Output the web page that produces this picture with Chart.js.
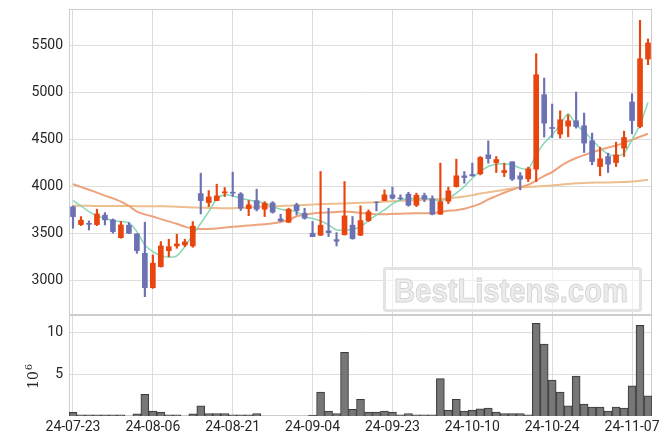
<!DOCTYPE html>
<html>
<head>
<meta charset="utf-8">
<script src="https://cdn.jsdelivr.net/npm/chart.js@4.4.1/dist/chart.umd.min.js"></script>
<style>
  html, body { margin: 0; padding: 0; background: #fff; }
  #wrap { position: relative; width: 670px; height: 444px; overflow: hidden; }
  #priceCanvas { position: absolute; left: 0; top: 0; }
  #volCanvas { position: absolute; left: 0; top: 315px; }
  .mark { position: absolute; left: 383px; top: 267px; width: 253px; height: 39px;
          border: 3px solid #e3e3e3; border-radius: 3px; background: rgba(255,255,255,0.55); }
  .mark span { position: absolute; left: 8px; top: 1px; font: bold 34px "Liberation Sans", sans-serif;
               color: #ececec; -webkit-text-stroke: 1px #d4d4d4; transform: scaleX(0.86);
               transform-origin: 0 0; white-space: nowrap; }
</style>
</head>
<body>
<div id="wrap">
  <canvas id="priceCanvas" width="670" height="316"></canvas>
  <canvas id="volCanvas" width="670" height="129"></canvas>
  <div class="mark"><span>BestListens.com</span></div>
</div>
<script>
// 交易日
const dates = [
  '24-07-23','24-07-24','24-07-25','24-07-26','24-07-29','24-07-30','24-07-31','24-08-01','24-08-02','24-08-05',
  '24-08-06','24-08-07','24-08-08','24-08-09','24-08-12','24-08-13','24-08-14','24-08-16','24-08-19','24-08-20',
  '24-08-21','24-08-22','24-08-23','24-08-26','24-08-27','24-08-28','24-08-29','24-08-30','24-09-02','24-09-03',
  '24-09-04','24-09-05','24-09-06','24-09-09','24-09-10','24-09-11','24-09-12','24-09-13','24-09-19','24-09-20',
  '24-09-23','24-09-24','24-09-25','24-09-26','24-09-27','24-09-30','24-10-02','24-10-04','24-10-07','24-10-08',
  '24-10-10','24-10-11','24-10-14','24-10-15','24-10-16','24-10-17','24-10-18','24-10-21','24-10-22','24-10-23',
  '24-10-24','24-10-25','24-10-28','24-10-29','24-10-30','24-10-31','24-11-01','24-11-04','24-11-05','24-11-06',
  '24-11-07','24-11-08','24-11-11'
];

const opens = [
  3780,3592,3605,3592,3692,3642,3453,3585,3493,3287,
  2921,3145,3315,3365,3376,3365,3921,3826,3847,3929,
  3936,3918,3762,3847,3755,3822,3652,3617,3801,3713,
  3500,3479,3525,3432,3485,3585,3479,3634,3830,3847,
  3908,3875,3915,3798,3900,3865,3702,3840,3996,4110,
  4124,4131,4333,4251,4145,4259,4110,4078,4181,4972,
  4624,4553,4638,4695,4642,4482,4209,4315,4251,4404,
  4894,4634,5351
];
const highs = [
  3790,3677,3631,3755,3719,3652,3624,3613,3495,3617,
  3269,3411,3436,3489,3436,3624,4138,3953,4021,3985,
  4149,3932,3847,3968,3836,3836,3702,3766,3819,3766,
  3624,4156,3766,3507,4049,3677,3791,3748,3836,3961,
  3990,3908,3936,3926,3926,3897,4245,3990,4287,4156,
  4245,4315,4482,4315,4245,4260,4145,4202,5408,5149,
  4873,4801,4759,5000,4777,4564,4415,4351,4468,4585,
  4982,5762,5564
];
const lows = [
  3553,3581,3535,3581,3588,3500,3447,3495,3287,2826,
  2915,3140,3251,3340,3357,3351,3705,3783,3845,3890,
  3890,3741,3687,3737,3677,3713,3624,3615,3695,3649,
  3464,3475,3464,3365,3480,3436,3475,3624,3737,3845,
  3862,3854,3787,3783,3836,3695,3700,3815,3990,4032,
  4105,4120,4245,4145,4102,4060,3961,4049,4049,4522,
  4517,4511,4525,4617,4358,4227,4110,4145,4209,4315,
  4557,4620,5291
];
const closes = [
  3677,3638,3595,3705,3642,3517,3588,3500,3315,2921,
  3181,3365,3357,3386,3407,3575,3847,3886,3897,3940,
  3926,3766,3801,3755,3819,3724,3631,3755,3741,3660,
  3464,3585,3507,3415,3684,3443,3634,3727,3828,3908,
  3872,3868,3798,3904,3862,3702,3836,3950,4110,4092,
  4110,4305,4294,4283,4166,4075,4075,4184,5184,4670,
  4613,4706,4695,4634,4458,4262,4291,4234,4333,4517,
  4698,5354,5522
];

// 均线
const ma5 = [
  3847,3790,3730,3684,3660,3631,3624,3613,3517,3376,
  3304,3262,3245,3259,3357,3482,3606,3730,3865,3908,
  3897,3872,3854,3836,3819,3783,3755,3741,3730,3677,
  3656,3631,3588,3535,3535,3540,3570,3634,3695,3748,
  3812,3854,3865,3872,3872,3862,3847,3870,3926,3996,
  4085,4156,4209,4234,4237,4227,4192,4181,4333,4458,
  4546,4652,4769,4652,4581,4493,4404,4341,4323,4351,
  4493,4652,4890
];
const ma20 = [
  4021,3990,3962,3932,3900,3870,3836,3790,3730,3700,
  3677,3650,3626,3600,3570,3550,3546,3546,3550,3560,
  3568,3575,3582,3590,3596,3605,3620,3640,3680,3695,
  3710,3718,3722,3726,3730,3725,3715,3708,3703,3702,
  3705,3708,3711,3713,3713,3712,3725,3740,3745,3760,
  3785,3815,3860,3895,3930,3962,3990,4015,4060,4110,
  4150,4210,4260,4300,4330,4360,4388,4410,4432,4460,
  4493,4525,4557
];
const ma60 = [
  3792,3791,3791,3790,3790,3790,3789,3789,3788,3788,
  3787,3787,3785,3782,3778,3774,3771,3769,3767,3766,
  3766,3768,3772,3778,3783,3786,3790,3793,3796,3799,
  3805,3808,3811,3814,3817,3820,3823,3826,3830,3836,
  3840,3844,3848,3852,3856,3860,3864,3870,3880,3890,
  3905,3922,3935,3948,3962,3975,3985,3992,3996,4002,
  4008,4016,4024,4032,4035,4037,4039,4040,4042,4045,
  4049,4058,4067
];

// 成交量 (百万股)
const volumes = [
  0.45,0.15,0.15,0.15,0.15,0.15,0.15,0,0.25,2.6,
  0.6,0.48,0.15,0.15,0,0.25,1.2,0.3,0.3,0.3,
  0.15,0.15,0.15,0.3,0,0,0,0,0,0,
  0.1,2.85,0.6,0.3,7.6,0.8,2.0,0.48,0.48,0.6,
  0.48,0.15,0.3,0.15,0.15,0.15,4.45,0.7,2.0,0.6,
  0.7,0.85,0.95,0.48,0.3,0.3,0.3,0.15,11.07,8.57,
  4.29,2.86,1.22,4.76,1.43,1.07,1.07,0.6,1.07,0.95,
  3.6,10.83,2.42
];

const priceTicks = [3000, 3500, 4000, 4500, 5000, 5500];
const volumeTicks = [5, 10];

const UP = '#e8450f';
const DOWN = '#6c71b4';
const GRID = '#dddddd';
const TEXT = '#262626';

Chart.defaults.font.family = 'Roboto, sans-serif';
Chart.defaults.font.size = 14;
Chart.defaults.color = TEXT;

const candleColors = opens.map((o, i) => closes[i] >= o ? UP : DOWN);

// 外框
const framePlugin = {
  id: 'frame',
  beforeDatasetsDraw(chart) {
    const { ctx, chartArea: a } = chart;
    ctx.save();
    ctx.strokeStyle = '#cccccc';
    ctx.lineWidth = 1;
    ctx.strokeRect(Math.round(a.left) + 0.5, Math.round(a.top) + 0.5,
                   Math.round(a.right - a.left) - 1, Math.round(a.bottom - a.top) - 1);
    ctx.restore();
  }
};

function xScale(showLabels, height) {
  return {
    offset: true,
    grid: {
      offset: false,
      drawTicks: false,
      color: c => (c.index % 10 === 0 ? GRID : 'rgba(0,0,0,0)')
    },
    border: { display: false },
    ticks: {
      display: showLabels,
      autoSkip: false,
      maxRotation: 0,
      padding: 3,
      callback: (v, i) => (i % 10 === 0 ? dates[i] : '')
    },
    afterFit: s => { s.height = height; s.paddingLeft = 0; s.paddingRight = 0; }
  };
}

// 价格 (K线)
new Chart(document.getElementById('priceCanvas'), {
  type: 'bar',
  data: {
    labels: dates,
    datasets: [
      { type: 'line', data: ma60, borderColor: 'rgba(236,186,136,0.95)', borderWidth: 2,
        pointRadius: 0, tension: 0.25, order: 5 },
      { type: 'line', data: ma20, borderColor: 'rgba(236,158,118,0.95)', borderWidth: 2,
        pointRadius: 0, tension: 0.25, order: 4 },
      { type: 'line', data: ma5, borderColor: 'rgba(128,214,178,0.95)', borderWidth: 1.5,
        pointRadius: 0, tension: 0.25, order: 3 },
      { data: lows.map((l, i) => [l, highs[i]]), backgroundColor: candleColors,
        barThickness: 1.5, grouped: false, order: 2 },
      { data: opens.map((o, i) => [o, closes[i]]), backgroundColor: candleColors,
        barThickness: 5, grouped: false, order: 1 }
    ]
  },
  options: {
    responsive: false,
    animation: false,
    layout: { padding: { top: 9, right: 18, bottom: 1, left: 0 } },
    plugins: { legend: { display: false }, tooltip: { enabled: false } },
    scales: {
      x: xScale(false, 0),
      y: {
        min: 2631,
        max: 5883,
        grid: { color: GRID, drawTicks: false },
        border: { display: false },
        ticks: { padding: 6, color: TEXT, callback: v => String(v) },
        afterBuildTicks: s => { s.ticks = priceTicks.map(v => ({ value: v })); },
        afterFit: s => { s.width = 69; s.paddingTop = 0; s.paddingBottom = 0; }
      }
    }
  },
  plugins: [framePlugin]
});

// 10^6 轴标题
const unitPlugin = {
  id: 'unit',
  afterDraw(chart) {
    const ctx = chart.ctx;
    ctx.save();
    ctx.translate(38, 389 - 315);
    ctx.rotate(-Math.PI / 2);
    ctx.fillStyle = TEXT;
    ctx.font = '14px "DejaVu Serif", serif';
    ctx.textBaseline = 'alphabetic';
    ctx.fillText('10', 0, 0);
    const w = ctx.measureText('10').width;
    ctx.font = '10px "DejaVu Serif", serif';
    ctx.fillText('6', w + 1, -6);
    ctx.restore();
  }
};

// 成交量
new Chart(document.getElementById('volCanvas'), {
  type: 'bar',
  data: {
    labels: dates,
    datasets: [{
      data: volumes,
      backgroundColor: 'rgba(112,112,112,0.95)',
      borderColor: '#3c3c3c',
      borderWidth: 1,
      barPercentage: 1,
      categoryPercentage: 1
    }]
  },
  options: {
    responsive: false,
    animation: false,
    layout: { padding: { top: 0, right: 18, bottom: 0, left: 0 } },
    plugins: { legend: { display: false }, tooltip: { enabled: false } },
    scales: {
      x: xScale(true, 28),
      y: {
        min: 0,
        max: 12.05,
        grid: { color: GRID, drawTicks: false },
        border: { display: false },
        ticks: { padding: 6, color: TEXT, callback: v => String(v) },
        afterBuildTicks: s => { s.ticks = volumeTicks.map(v => ({ value: v })); },
        afterFit: s => { s.width = 69; s.paddingTop = 0; s.paddingBottom = 0; }
      }
    }
  },
  plugins: [framePlugin, unitPlugin]
});
</script>
</body>
</html>
